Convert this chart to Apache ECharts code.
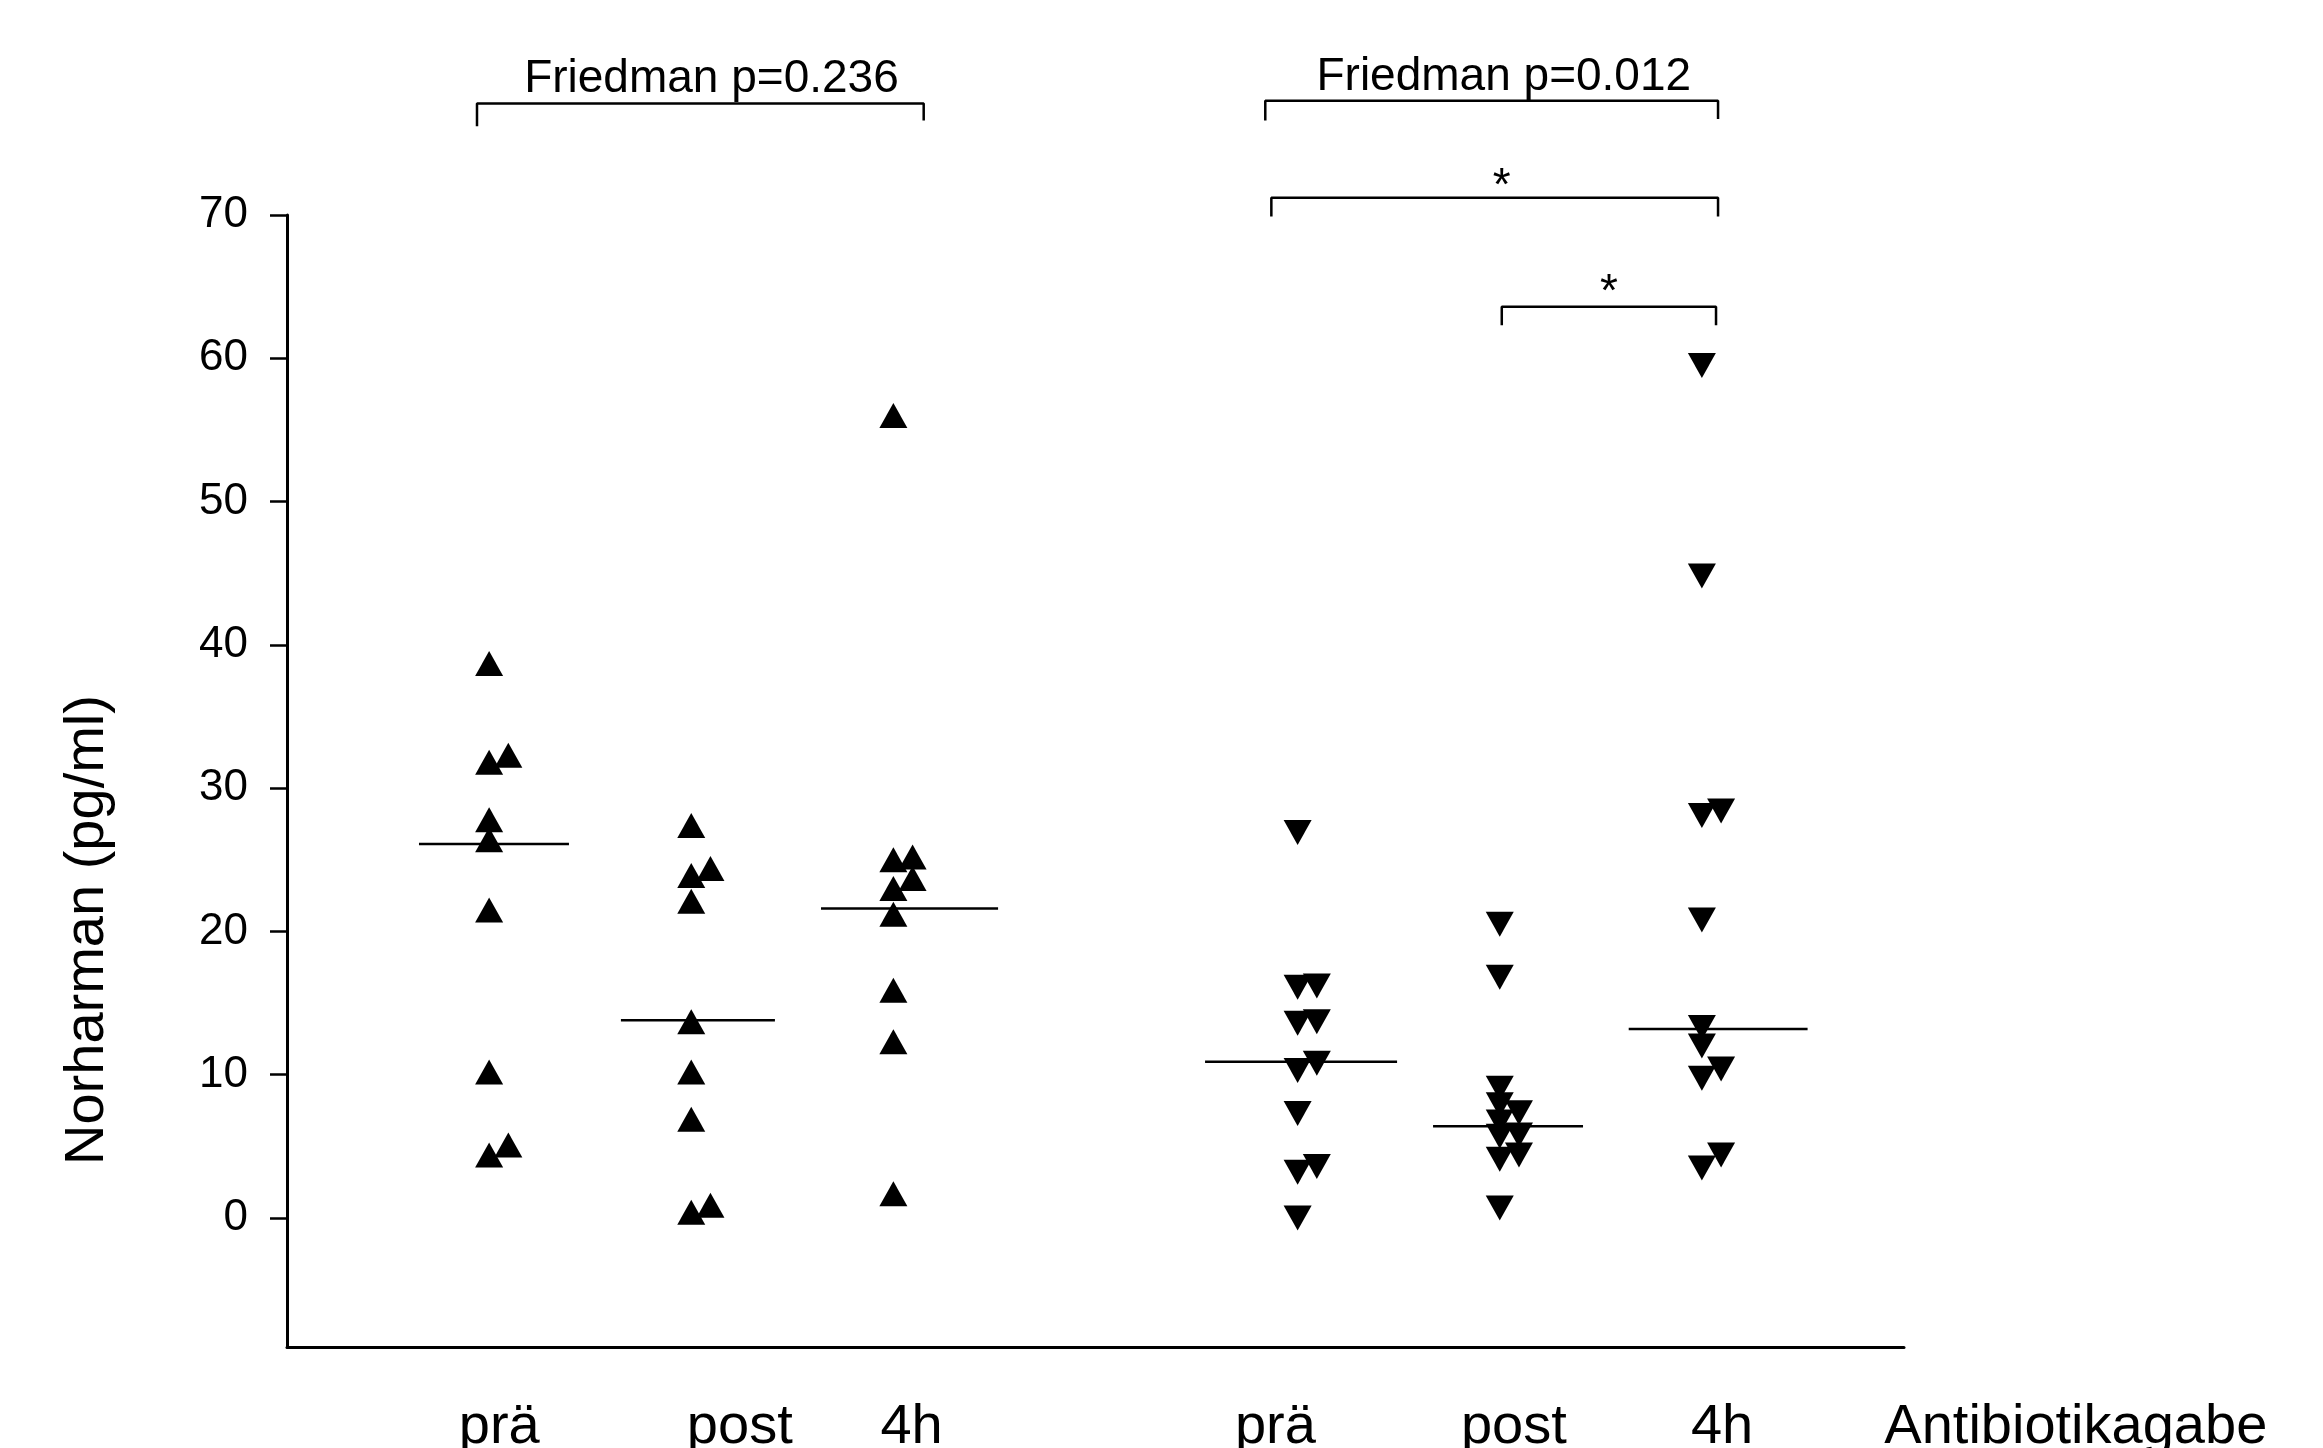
<!DOCTYPE html>
<html>
<head>
<meta charset="utf-8">
<script src="https://cdn.jsdelivr.net/npm/echarts@6/dist/echarts.min.js"></script>
<style>
  html, body { margin: 0; padding: 0; background: #fff; }
  #chart { width: 2323px; height: 1448px; }
</style>
</head>
<body>
<div id="chart"></div>
<script>
// ---------- data ----------
const yTicks = [0, 10, 20, 30, 40, 50, 60, 70];
const xLabels = ['prä', 'post', '4h', 'prä', 'post', '4h', 'Antibiotikagabe'];
const yTitle = 'Norharman (pg/ml)';
const groupCenters = [1, 2, 3, 5, 6, 7];   // x positions of the six columns

// group 1 (up triangles)
const g1Pre  = [38.7, 32.3, 31.8, 27.8, 26.4, 21.5, 10.2, 5.1, 4.4];
const g1PreSide  = [0, 1, 0, 0, 0, 0, 0, 1, 0];
const g1Post = [27.4, 24.4, 23.9, 22.1, 13.7, 10.2, 6.9, 0.9, 0.4];
const g1PostSide = [0, 1, 0, 0, 0, 0, 0, 1, 0];
const g14h   = [56.0, 25.2, 25.0, 23.7, 23.0, 21.2, 15.9, 12.3, 1.7];
const g14hSide   = [0, 1, 0, 1, 0, 0, 0, 0, 0];

// group 2 (down triangles)
const g2Pre  = [26.9, 16.2, 16.1, 13.7, 13.6, 10.8, 10.3, 7.3, 3.6, 3.2, 0.0];
const g2PreSide  = [0, 1, 0, 1, 0, 1, 0, 0, 1, 0, 0];
const g2Post = [20.5, 16.8, 9.05, 7.9, 7.35, 6.7, 5.8, 5.7, 4.4, 4.1, 0.7];
const g2PostSide = [0, 0, 0, 0, 1, 0, 1, 0, 1, 0, 0];
const g24h   = [59.5, 44.8, 28.4, 28.1, 20.8, 13.3, 12.0, 10.4, 9.75, 4.4, 3.5];
const g24hSide   = [0, 0, 1, 0, 0, 0, 0, 1, 0, 1, 0];

// medians: value, and x-extent of the median bar
const medians = [26.1, 13.8, 21.6, 10.9, 6.4, 13.2];
const medianFrom = [0.653, 1.652, 2.642, 4.542, 5.67, 6.638];
const medianTo   = [1.395, 2.414, 3.518, 5.492, 6.412, 7.523];

// significance annotations
const friedmanTexts = ['Friedman p=0.236', 'Friedman p=0.012'];
const brackets = [
  [[0.94, 76.2], [0.94, 77.79], [3.15, 77.79], [3.15, 76.6]],
  [[4.84, 76.6], [4.84, 77.97], [7.08, 77.97], [7.08, 76.7]],
  [[4.87, 69.9], [4.87, 71.21], [7.08, 71.21], [7.08, 69.9]],
  [[6.01, 62.3], [6.01, 63.6], [7.07, 63.6], [7.07, 62.3]]
];

// ---------- layout (not data) ----------
const SIDE = 0.095;
const FONT = '"Liberation Sans", Arial, Helvetica, sans-serif';
const xLabelX = [1.05, 2.24, 3.09, 4.89, 6.07, 7.10, 8.85];
const xLabelY = -14.6;
const friedmanPos = [[2.10, 79.45], [6.02, 79.6]];
const starPos = [[6.01, 71.9], [6.54, 64.5]];
const yTitlePos = [-0.985, 20.1];

function pts(center, vals, side) {
  return vals.map((v, i) => [center + side[i] * SIDE, v]);
}

const series = [];
const upGroups = [[g1Pre, g1PreSide], [g1Post, g1PostSide], [g14h, g14hSide]];
const downGroups = [[g2Pre, g2PreSide], [g2Post, g2PostSide], [g24h, g24hSide]];
upGroups.forEach((g, i) => {
  series.push({
    type: 'scatter', symbol: 'triangle', symbolSize: [28, 25],
    itemStyle: { color: '#000', opacity: 1 }, data: pts(groupCenters[i], g[0], g[1]), z: 3
  });
});
downGroups.forEach((g, i) => {
  series.push({
    type: 'scatter', symbol: 'triangle', symbolRotate: 180, symbolSize: [28, 25],
    itemStyle: { color: '#000', opacity: 1 }, data: pts(groupCenters[i + 3], g[0], g[1]), z: 3
  });
});
medians.forEach((m, i) => {
  series.push({
    type: 'line', data: [[medianFrom[i], m], [medianTo[i], m]],
    symbol: 'none', lineStyle: { color: '#000', width: 2.5 }, z: 2, silent: true
  });
});
brackets.forEach(b => {
  series.push({
    type: 'line', data: b, clip: false, symbol: 'none',
    lineStyle: { color: '#000', width: 2.5 }, silent: true
  });
});
function textSeries(items, fontSize, extra) {
  return {
    type: 'scatter', clip: false, symbolSize: 1, silent: true,
    itemStyle: { color: 'rgba(0,0,0,0)', opacity: 1 },
    data: items,
    label: Object.assign({ show: true, position: 'inside', formatter: p => p.name,
      color: '#000', fontSize: fontSize, fontFamily: FONT, textBorderWidth: 0 }, extra || {})
  };
}
series.push(textSeries(friedmanPos.map((p, i) => ({ value: p, name: friedmanTexts[i] })), 46));
series.push(textSeries(starPos.map(p => ({ value: p, name: '*' })), 46));
series.push(textSeries(xLabels.map((t, i) => ({ value: [xLabelX[i], xLabelY], name: t })), 56));
series.push(textSeries([{ value: yTitlePos, name: yTitle }], 56, { rotate: 90 }));

const chart = echarts.init(document.getElementById('chart'), null, { renderer: 'canvas' });
chart.setOption({
  animation: false,
  backgroundColor: '#fff',
  grid: { left: 287, right: 419, top: 215, bottom: 101, containLabel: false },
  xAxis: {
    type: 'value', min: 0, max: 8,
    axisLine: { show: true, onZero: false, lineStyle: { color: '#000', width: 3 } },
    axisTick: { show: false }, axisLabel: { show: false }, splitLine: { show: false }
  },
  yAxis: {
    type: 'value', min: -9, max: 70,
    axisLine: { show: true, onZero: false, lineStyle: { color: '#000', width: 3 } },
    axisTick: { show: true, customValues: yTicks, length: 17, lineStyle: { color: '#000', width: 2.5 } },
    axisLabel: { show: true, customValues: yTicks, margin: 39, color: '#000', fontSize: 44, fontFamily: FONT },
    splitLine: { show: false }
  },
  series: series
});
</script>
</body>
</html>
